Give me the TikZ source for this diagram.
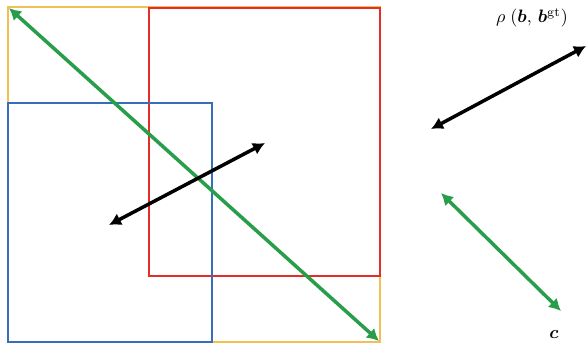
\documentclass[tikz,border=0pt]{standalone}
\usepackage{amsmath}
\usepackage{amssymb}
\usepackage{bm}
\usepackage{tikz}
\usetikzlibrary{arrows.meta}

\definecolor{boxyellow}{RGB}{240,192,85}
\definecolor{boxred}{RGB}{228,45,40}
\definecolor{boxblue}{RGB}{55,110,185}
\definecolor{diaggreen}{RGB}{40,158,75}

\tikzset{
  box/.style={line width=2pt},
  dist/.style={line width=3.5pt, {Latex[length=12pt,width=13pt]}-{Latex[length=12pt,width=13pt]}},
  lbl/.style={scale=1.8, transform shape, inner sep=0pt}
}

\begin{document}
\begin{tikzpicture}[x=1pt,y=-1pt]
			\useasboundingbox (0,0) rectangle (587,349);
			% boxes
			\draw[box,boxyellow] (8,7) rectangle (380,342);
			\draw[box,boxred] (149,8) rectangle (380,276);
			\draw[box,boxblue] (8,103) rectangle (212,342);
			% end points
			\coordinate (gtl) at (9,8);
			\coordinate (gbr) at (379,341);
			\coordinate (cl) at (109,225);
			\coordinate (cr) at (265,143);
			\coordinate (rl) at (431,129);
			\coordinate (rr) at (586,46);
			\coordinate (dl) at (441,193);
			\coordinate (dr) at (561,311);
			% distances
			\draw[dist,diaggreen] (gtl) -- (gbr);
			\draw[dist,black] (cl) -- (cr);
			\draw[dist,black] (rl) -- (rr);
			\draw[dist,diaggreen] (dl) -- (dr);
			% labels
			\node[lbl] (rho) at (532,18) {$\rho\;(\bm{b},\,\bm{b}^{\mathrm{gt}})$};
			\node[lbl] (c) at (554,334) {$\bm{c}$};
		\end{tikzpicture}
\end{document}
